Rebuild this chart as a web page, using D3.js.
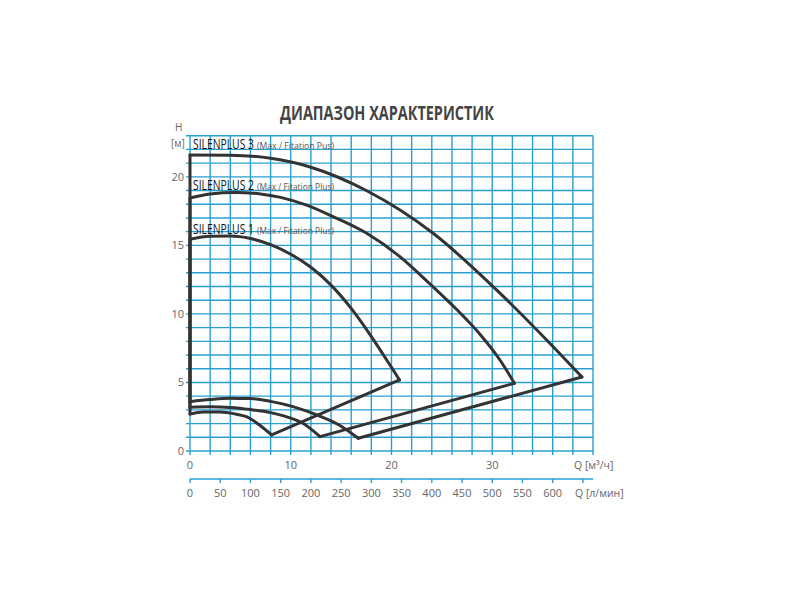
<!DOCTYPE html>
<html><head><meta charset="utf-8">
<script src="https://cdn.jsdelivr.net/npm/d3@7"></script>
<style>body{margin:0;background:#fff}svg{display:block}</style>
</head><body>
<svg id="c" width="800" height="600"></svg>
<script>
// ---- data ----
const title = "ДИАПАЗОН ХАРАКТЕРИСТИК";
const pumpNames = ["SILENPLUS 1", "SILENPLUS 2", "SILENPLUS 3"];
const pumpNotes = ["(Max / Fitation Plus)", "(Max / Fitation Plus)", "(Max / Fitation Pus)"];
// upper H-Q curves [Q m3/h, H m]
const upper1 = [[0,15.45],[2,15.66],[4,15.68],[6,15.5],[8,15.05],[10,14.35],[12,13.4],[14,12.1],[16,10.4],[18,8.35],[20,6.1],[20.8,5.18]];
const upper2 = [[0,18.45],[2,18.75],[4.5,18.85],[7,18.75],[9,18.5],[11.5,17.95],[14.2,17.1],[17.5,15.9],[20.8,14.2],[23.8,12.2],[26.5,10.3],[28.8,8.5],[30.8,6.6],[32.2,4.94]];
const upper3 = [[0,21.6],[4,21.58],[8,21.35],[12,20.7],[17.5,19.0],[24.1,15.9],[30.5,11.7],[35.4,8.1],[38.9,5.4]];
// lower curves [Q m3/h, H m], from Q=0 to the minimum point
const lower1 = [[0,2.7],[1.3,2.85],[3,2.85],[4.5,2.7],[5.6,2.5],[6.9,1.9],[8.1,1.17]];
const lower2 = [[0,3.2],[2,3.22],[4,3.17],[6,3.02],[8,2.8],[9.2,2.58],[11.2,2.02],[12.9,1.05]];
const lower3 = [[0,3.6],[2,3.75],[4,3.84],[6,3.83],[8,3.62],[10.3,3.22],[12.6,2.63],[14.8,1.9],[16.7,0.93]];
const uppers = [upper1, upper2, upper3];
const lowers = [lower1, lower2, lower3];
const yTicks = [0,5,10,15,20];
const xTicks = [0,10,20,30];
const lminTicks = [0,50,100,150,200,250,300,350,400,450,500,550,600,650];
const lminLabels = ["0","50","100","150","200","250","300","350","400","450","500","550","600",""];

// ---- layout ----
const svg = d3.select("#c");
const L = 190, R = 593, B = 451, T = 135.7;
const x = d3.scaleLinear().domain([0,40]).range([L,R]);
const y = d3.scaleLinear().domain([0,23]).range([B,T]);
const xl = d3.scaleLinear().domain([0,40*1000/60]).range([L,R]);
const blue = "#2a9fcf", txt = "#666";
const FF = "Open Sans, sans-serif";

// fit a text horizontally to a width by scaling
function fitText(px, py, str, size, width, attrs) {
  const t = svg.append("text").attr("x",0).attr("y",0).attr("font-family",FF).attr("font-size",size).text(str);
  Object.entries(attrs||{}).forEach(([k,v])=>t.attr(k,v));
  const w = t.node().getComputedTextLength();
  t.attr("transform", `translate(${px},${py}) scale(${width/w},1)`);
  return t;
}

// grid
const g = svg.append("g").attr("stroke", blue).attr("stroke-width", 1.4);
g.selectAll(".v").data(d3.range(0,41,2)).join("line")
  .attr("x1", d=>x(d)).attr("x2", d=>x(d)).attr("y1", y(23)).attr("y2", B+4);
g.selectAll(".h").data(d3.range(0,24,1)).join("line")
  .attr("x1", L-4).attr("x2", R).attr("y1", d=>y(d)).attr("y2", d=>y(d));

// y tick labels
svg.selectAll(".yt").data(yTicks).join("text")
  .attr("x", 184).attr("y", d=>y(d)+4).attr("text-anchor","end")
  .attr("font-family",FF).attr("font-size",11).attr("fill",txt)
  .text(d=>d);
svg.append("text").attr("x",175).attr("y",131).attr("font-family",FF).attr("font-size",10).attr("fill",txt).text("H");
svg.append("text").attr("x",171).attr("y",147).attr("font-family",FF).attr("font-size",10).attr("fill",txt).text("[м]");

// x tick labels (m3/h)
svg.selectAll(".xt").data(xTicks).join("text")
  .attr("x", d=>x(d)).attr("y", 469).attr("text-anchor","middle")
  .attr("font-family",FF).attr("font-size",11).attr("fill",txt)
  .text(d=>d);
svg.append("text").attr("x",574).attr("y",469).attr("font-family",FF).attr("font-size",10.5).attr("fill",txt)
  .text("Q [м³/ч]");

// second axis (l/min)
const a2 = svg.append("g").attr("stroke", blue).attr("stroke-width", 1.4);
a2.append("line").attr("x1",L).attr("x2",R).attr("y1",479).attr("y2",479);
a2.selectAll("line.t").data(lminTicks).join("line").attr("class","t")
  .attr("x1", d=>xl(d)).attr("x2", d=>xl(d)).attr("y1",479).attr("y2",483);
svg.selectAll(".lt").data(lminTicks).join("text")
  .attr("x", d=>xl(d)).attr("y", 497).attr("text-anchor","middle")
  .attr("font-family",FF).attr("font-size",11).attr("fill",txt)
  .text((d,i)=>lminLabels[i]);
svg.append("text").attr("x",575).attr("y",497).attr("font-family",FF).attr("font-size",10.5).attr("fill",txt)
  .text("Q [л/мин]");

// title
fitText(280, 120, title, 19, 214, {"font-weight":"bold","fill":"#444"});

// curves
const line = d3.line().x(d=>x(d[0])).y(d=>y(d[1])).curve(d3.curveMonotoneX);
const straight = d3.line().x(d=>x(d[0])).y(d=>y(d[1]));
const cg = svg.append("g").attr("fill","none").attr("stroke","#333").attr("stroke-width",3)
  .attr("stroke-linejoin","round").attr("stroke-linecap","round");
uppers.forEach((u,i)=>{
  const lo = lowers[i];
  cg.append("path").attr("d", line(u));
  cg.append("path").attr("d", line(lo));
  cg.append("path").attr("d", straight([u[u.length-1], lo[lo.length-1]]));
  cg.append("path").attr("d", straight([lo[0], u[0]]));
});

// labels
const labelY = [233.5, 189.5, 149];
pumpNames.forEach((n,i)=>{
  fitText(193, labelY[i], n, 15, 61, {"fill":"#111"});
  fitText(257, labelY[i], pumpNotes[i], 9.5, 77, {"fill":"#555"});
});
</script>
</body></html>
